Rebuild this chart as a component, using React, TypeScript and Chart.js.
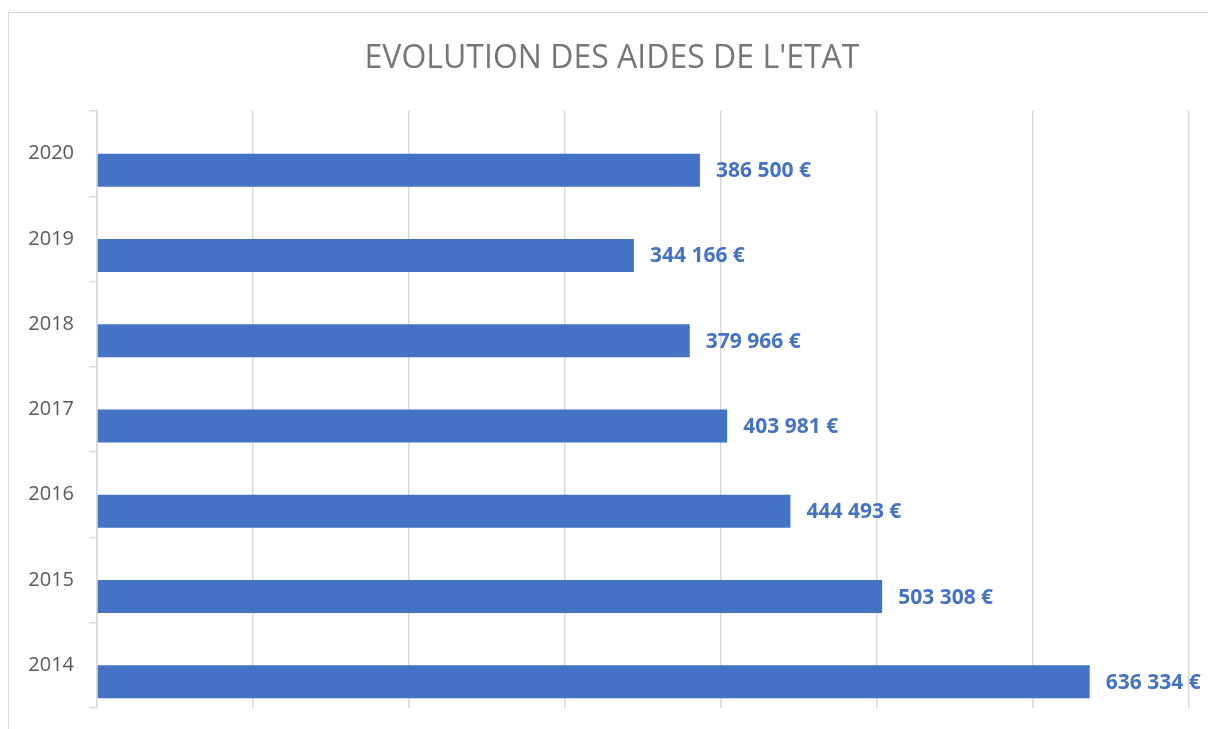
import React, { useEffect, useRef } from "react";
import { Chart, registerables } from "chart.js";

Chart.register(...registerables);

const years = ["2020", "2019", "2018", "2017", "2016", "2015", "2014"];
const aides = [386500, 344166, 379966, 403981, 444493, 503308, 636334];
const emptySeries = [null, null, null, null, null, null, null];
const xTicks = [0, 100000, 200000, 300000, 400000, 500000, 600000, 700000];
const titleText = "EVOLUTION DES AIDES DE L'ETAT";

const fmt = (v: number) =>
  String(Math.round(v)).replace(/\B(?=(\d{3})+(?!\d))/g, " ") + " €";

const valueLabels = {
  id: "valueLabels",
  afterDatasetsDraw(chart: any) {
    const ctx = chart.ctx;
    const meta = chart.getDatasetMeta(1);
    const data = chart.data.datasets[1].data as number[];
    ctx.save();
    ctx.font = "bold 21px 'Open Sans'";
    ctx.fillStyle = "#4472C4";
    ctx.textAlign = "left";
    ctx.textBaseline = "middle";
    meta.data.forEach((el: any, i: number) => {
      ctx.fillText(fmt(data[i]), el.x + 16, el.y + 1);
    });
    ctx.restore();
  },
};

export default function App() {
  const ref = useRef<HTMLCanvasElement | null>(null);
  useEffect(() => {
    if (!ref.current) return;
    const chart = new Chart(ref.current, {
      type: "bar",
      data: {
        labels: years,
        datasets: [
          { label: "vide", data: emptySeries as any, backgroundColor: "#ED7D31" },
          { label: "Aides", data: aides, backgroundColor: "#4472C4" },
        ],
      },
      options: {
        indexAxis: "y",
        responsive: false,
        animation: false,
        layout: { padding: { left: 0, right: 4, top: 0, bottom: 33 } },
        datasets: {
          bar: { categoryPercentage: 0.774, barPercentage: 1 },
        },
        plugins: {
          legend: { display: false },
          tooltip: { enabled: false },
          title: {
            display: true,
            text: titleText,
            color: "#767676",
            font: { family: "'Open Sans'", size: 32, weight: "normal" },
            padding: { top: 27, bottom: 32.6 },
          },
        },
        scales: {
          x: {
            min: 0,
            max: 700000,
            afterBuildTicks: (scale: any) => {
              scale.ticks = xTicks.map((v) => ({ value: v }));
            },
            afterFit: (scale: any) => {
              scale.height = 0;
            },
            ticks: { display: false },
            grid: { color: "#d9d9d9", lineWidth: 1.5, drawTicks: false },
            border: { display: false },
          },
          y: {
            afterFit: (scale: any) => {
              scale.width = 88;
            },
            ticks: {
              color: "#595959",
              font: { family: "'Open Sans'", size: 20 },
              padding: 15,
            },
            grid: {
              offset: true,
              drawOnChartArea: false,
              drawTicks: true,
              tickLength: 8,
              color: "#d9d9d9",
              lineWidth: 1.5,
            },
            border: { display: true, color: "#d9d9d9", width: 1.5 },
          },
          spacer: {
            type: "linear",
            position: "right",
            display: true,
            afterFit: (scale: any) => {
              scale.width = 26;
            },
            ticks: { display: false },
            grid: { display: false, drawTicks: false },
            border: { display: false },
          },
        },
      },
      plugins: [valueLabels],
    });
    return () => chart.destroy();
  }, []);

  return (
    <div
      style={{
        position: "absolute",
        left: 8,
        top: 12,
        width: 1212,
        height: 730,
        border: "1px solid #d9d9d9",
        boxSizing: "border-box",
        background: "#fff",
      }}
    >
      <canvas ref={ref} width={1210} height={728} style={{ display: "block" }} />
    </div>
  );
}
